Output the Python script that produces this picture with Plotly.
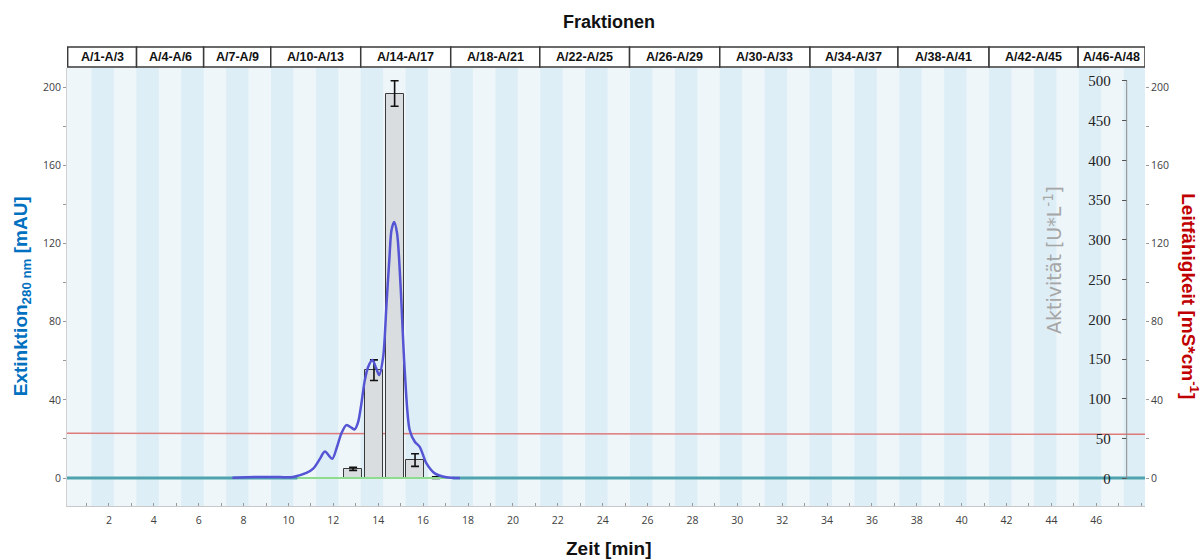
import plotly.graph_objects as go

# Fraction collector: box edges along the time axis (min) and their labels
frac_edges = [0.16, 3.23, 6.22, 9.21, 13.22, 17.23, 21.2, 25.2, 29.22, 33.24, 37.16, 41.22, 45.19, 48.17]
frac_labels = ["A/1-A/3", "A/4-A/6", "A/7-A/9", "A/10-A/13", "A/14-A/17", "A/18-A/21",
               "A/22-A/25", "A/26-A/29", "A/30-A/33", "A/34-A/37", "A/38-A/41",
               "A/42-A/45", "A/46-A/48"]

# UV absorbance at 280 nm (mAU)
uv_time = [7.5, 8.5, 9.6, 10.2, 10.8, 11.1, 11.4, 11.62, 11.95, 12.15, 12.36, 12.58, 12.8,
           12.95, 13.1, 13.25, 13.4, 13.55, 13.74, 13.9, 14.04, 14.22, 14.37, 14.5, 14.59,
           14.71, 14.84, 14.99, 15.18, 15.4, 15.63, 15.85, 16.15, 16.52, 17.04, 17.64]
uv_mau = [0.2, 0.6, 0.5, 0.6, 2.6, 4.8, 9.8, 13.6, 9.9, 15.5, 22.9, 27.1, 25.8,
          24.9, 28.5, 38.2, 50.0, 56.9, 60.4, 56.5, 52.7, 62.0, 89.4, 113.0, 126.9,
          131.1, 125.2, 99.6, 55.2, 24.6, 18.6, 16.0, 7.5, 2.4, 0.4, 0.0]

# Baseline traces of the other detector channels
base_time = [0.13, 10.4, None, 17.3, 48.17]
base_vals = [0.0, 0.0, None, 0.0, 0.0]
green_time = [10.3, 17.5]
green_vals = [0.0, 0.0]

# Conductivity (mS/cm)
cond_time = [0.13, 8, 16, 24, 32, 40, 48.17]
cond_vals = [22.9, 22.8, 22.7, 22.6, 22.5, 22.4, 22.4]

# Enzyme activity of the pooled fractions (U/L)
act_time = [12.88, 13.81, 14.73, 15.64, 16.57]
act_vals = [12, 136, 484, 23, 1]
act_err = [2, 13, 16, 8, 1]

X_RANGE = [0.13, 48.17]
Y_RANGE = [-14.3, 209.9]
ACT_RANGE = [-34.8, 516.1]

tick_font = dict(family="Open Sans", size=10.5, color="#404040")

fig = go.Figure()

# Conductivity on the primary (right) axis, drawn underneath the bars
fig.add_trace(go.Scatter(x=cond_time, y=cond_vals, mode="lines", yaxis="y",
                         line=dict(color="#de7a7a", width=1.5), hoverinfo="skip"))

# Activity bars with error bars
fig.add_trace(go.Bar(x=act_time, y=act_vals, width=0.8, yaxis="y2",
                     marker=dict(color="#d9dddf", line=dict(color="#3a3a3a", width=1)),
                     error_y=dict(type="data", array=act_err, visible=True,
                                  color="#111111", thickness=1.6, width=4)))

# UV channels on the left axis
fig.add_trace(go.Scatter(x=green_time, y=green_vals, mode="lines", yaxis="y3",
                         line=dict(color="#8edc8e", width=2), hoverinfo="skip"))
fig.add_trace(go.Scatter(x=base_time, y=base_vals, mode="lines", yaxis="y3",
                         line=dict(color="#4fa3ae", width=3), connectgaps=False,
                         hoverinfo="skip"))
fig.add_trace(go.Scatter(x=uv_time, y=uv_mau, mode="lines", yaxis="y3",
                         line=dict(color="#5454d4", width=2.5, shape="spline", smoothing=0.8)))

shapes = []
# Alternating fraction stripes in the plot background
for n in range(2, 49, 2):
    shapes.append(dict(type="rect", xref="x", yref="paper", x0=n - 0.78, x1=min(n + 0.22, X_RANGE[1]),
                       y0=0, y1=1, fillcolor="#deeef6", line=dict(width=0), layer="below"))

# Fraction header boxes
for i, lab in enumerate(frac_labels):
    shapes.append(dict(type="rect", xref="x", yref="paper", x0=frac_edges[i], x1=frac_edges[i + 1],
                       y0=1.0023, y1=1.048, fillcolor="white",
                       line=dict(color="#3a3a3a", width=1.5)))

# Activity axis spine from 0 to 500
shapes.append(dict(type="line", xref="paper", yref="y2", x0=0.983, x1=0.983, y0=0, y1=500,
                   line=dict(color="#8a8a8a", width=1)))

annotations = []
for i, lab in enumerate(frac_labels):
    annotations.append(dict(x=(frac_edges[i] + frac_edges[i + 1]) / 2, y=1.025, xref="x", yref="paper",
                            xanchor="center", yanchor="middle",
                            text="<b>%s</b>" % lab, showarrow=False,
                            font=dict(family="Liberation Sans", size=12.5, color="#111111")))


def title(x, y, text, size, color, angle=0, family="Liberation Sans"):
    return dict(x=x, y=y, xref="paper", yref="paper", text=text, showarrow=False,
                xanchor="center", yanchor="middle", textangle=angle,
                font=dict(family=family, size=size, color=color))


annotations += [
    title(0.503, 1.105, "<b>Fraktionen</b>", 18, "#111111"),
    title(0.503, -0.096, "<b>Zeit [min]</b>", 19, "#111111"),
    title(-0.0417, 0.479, "<b>Extinktion<sub>280 nm</sub> [mAU]</b>", 19, "#0070c0", -90),
    title(1.0417, 0.479, "<b>Leitfähigkeit [mS*cm<sup>-1</sup>]</b>", 19, "#c00000", 90),
    title(0.9147, 0.562, "Aktivität [U*L<sup>-1</sup>]", 19, "#a6a6a6", -90, "DejaVu Sans"),
]

fig.update_layout(
    width=1203, height=560,
    margin=dict(l=67, r=58, t=68, b=54),
    paper_bgcolor="white", plot_bgcolor="#eef6fa",
    showlegend=False, bargap=0,
    shapes=shapes, annotations=annotations,
    xaxis=dict(range=X_RANGE, tickvals=list(range(2, 47, 2)), ticks="inside", ticklen=3,
               tickcolor="#9a9a9a", showline=True, linecolor="#c8c8c8", showgrid=False,
               zeroline=False, tickfont=tick_font, ticklabelstandoff=4, automargin=False,
               minor=dict(tick0=0, dtick=1, ticks="inside", ticklen=3, tickcolor="#9a9a9a")),
    yaxis=dict(range=Y_RANGE, side="right", anchor="x", tickvals=list(range(0, 201, 40)),
               ticks="outside", ticklen=3, tickcolor="#9a9a9a", showgrid=False, zeroline=False,
               showline=False, tickfont=tick_font, automargin=False,
               minor=dict(tick0=0, dtick=20, ticks="outside", ticklen=3, tickcolor="#9a9a9a")),
    yaxis2=dict(range=ACT_RANGE, overlaying="y", anchor="free", position=0.983, side="left",
                tickvals=list(range(0, 501, 50)), ticks="outside", ticklen=5, tickcolor="#555555",
                showgrid=False, zeroline=False, showline=False, automargin=False,
                tickfont=dict(family="Liberation Serif", size=15, color="#222222"),
                ticklabelstandoff=8),
    yaxis3=dict(range=Y_RANGE, overlaying="y", anchor="x", side="left",
                tickvals=list(range(0, 201, 40)), ticks="outside", ticklen=3, tickcolor="#9a9a9a",
                showgrid=False, zeroline=False, showline=True, linecolor="#d0d0d0",
                tickfont=tick_font, automargin=False,
                minor=dict(tick0=0, dtick=20, ticks="outside", ticklen=3, tickcolor="#9a9a9a")),
)

fig.write_html("out.html")
